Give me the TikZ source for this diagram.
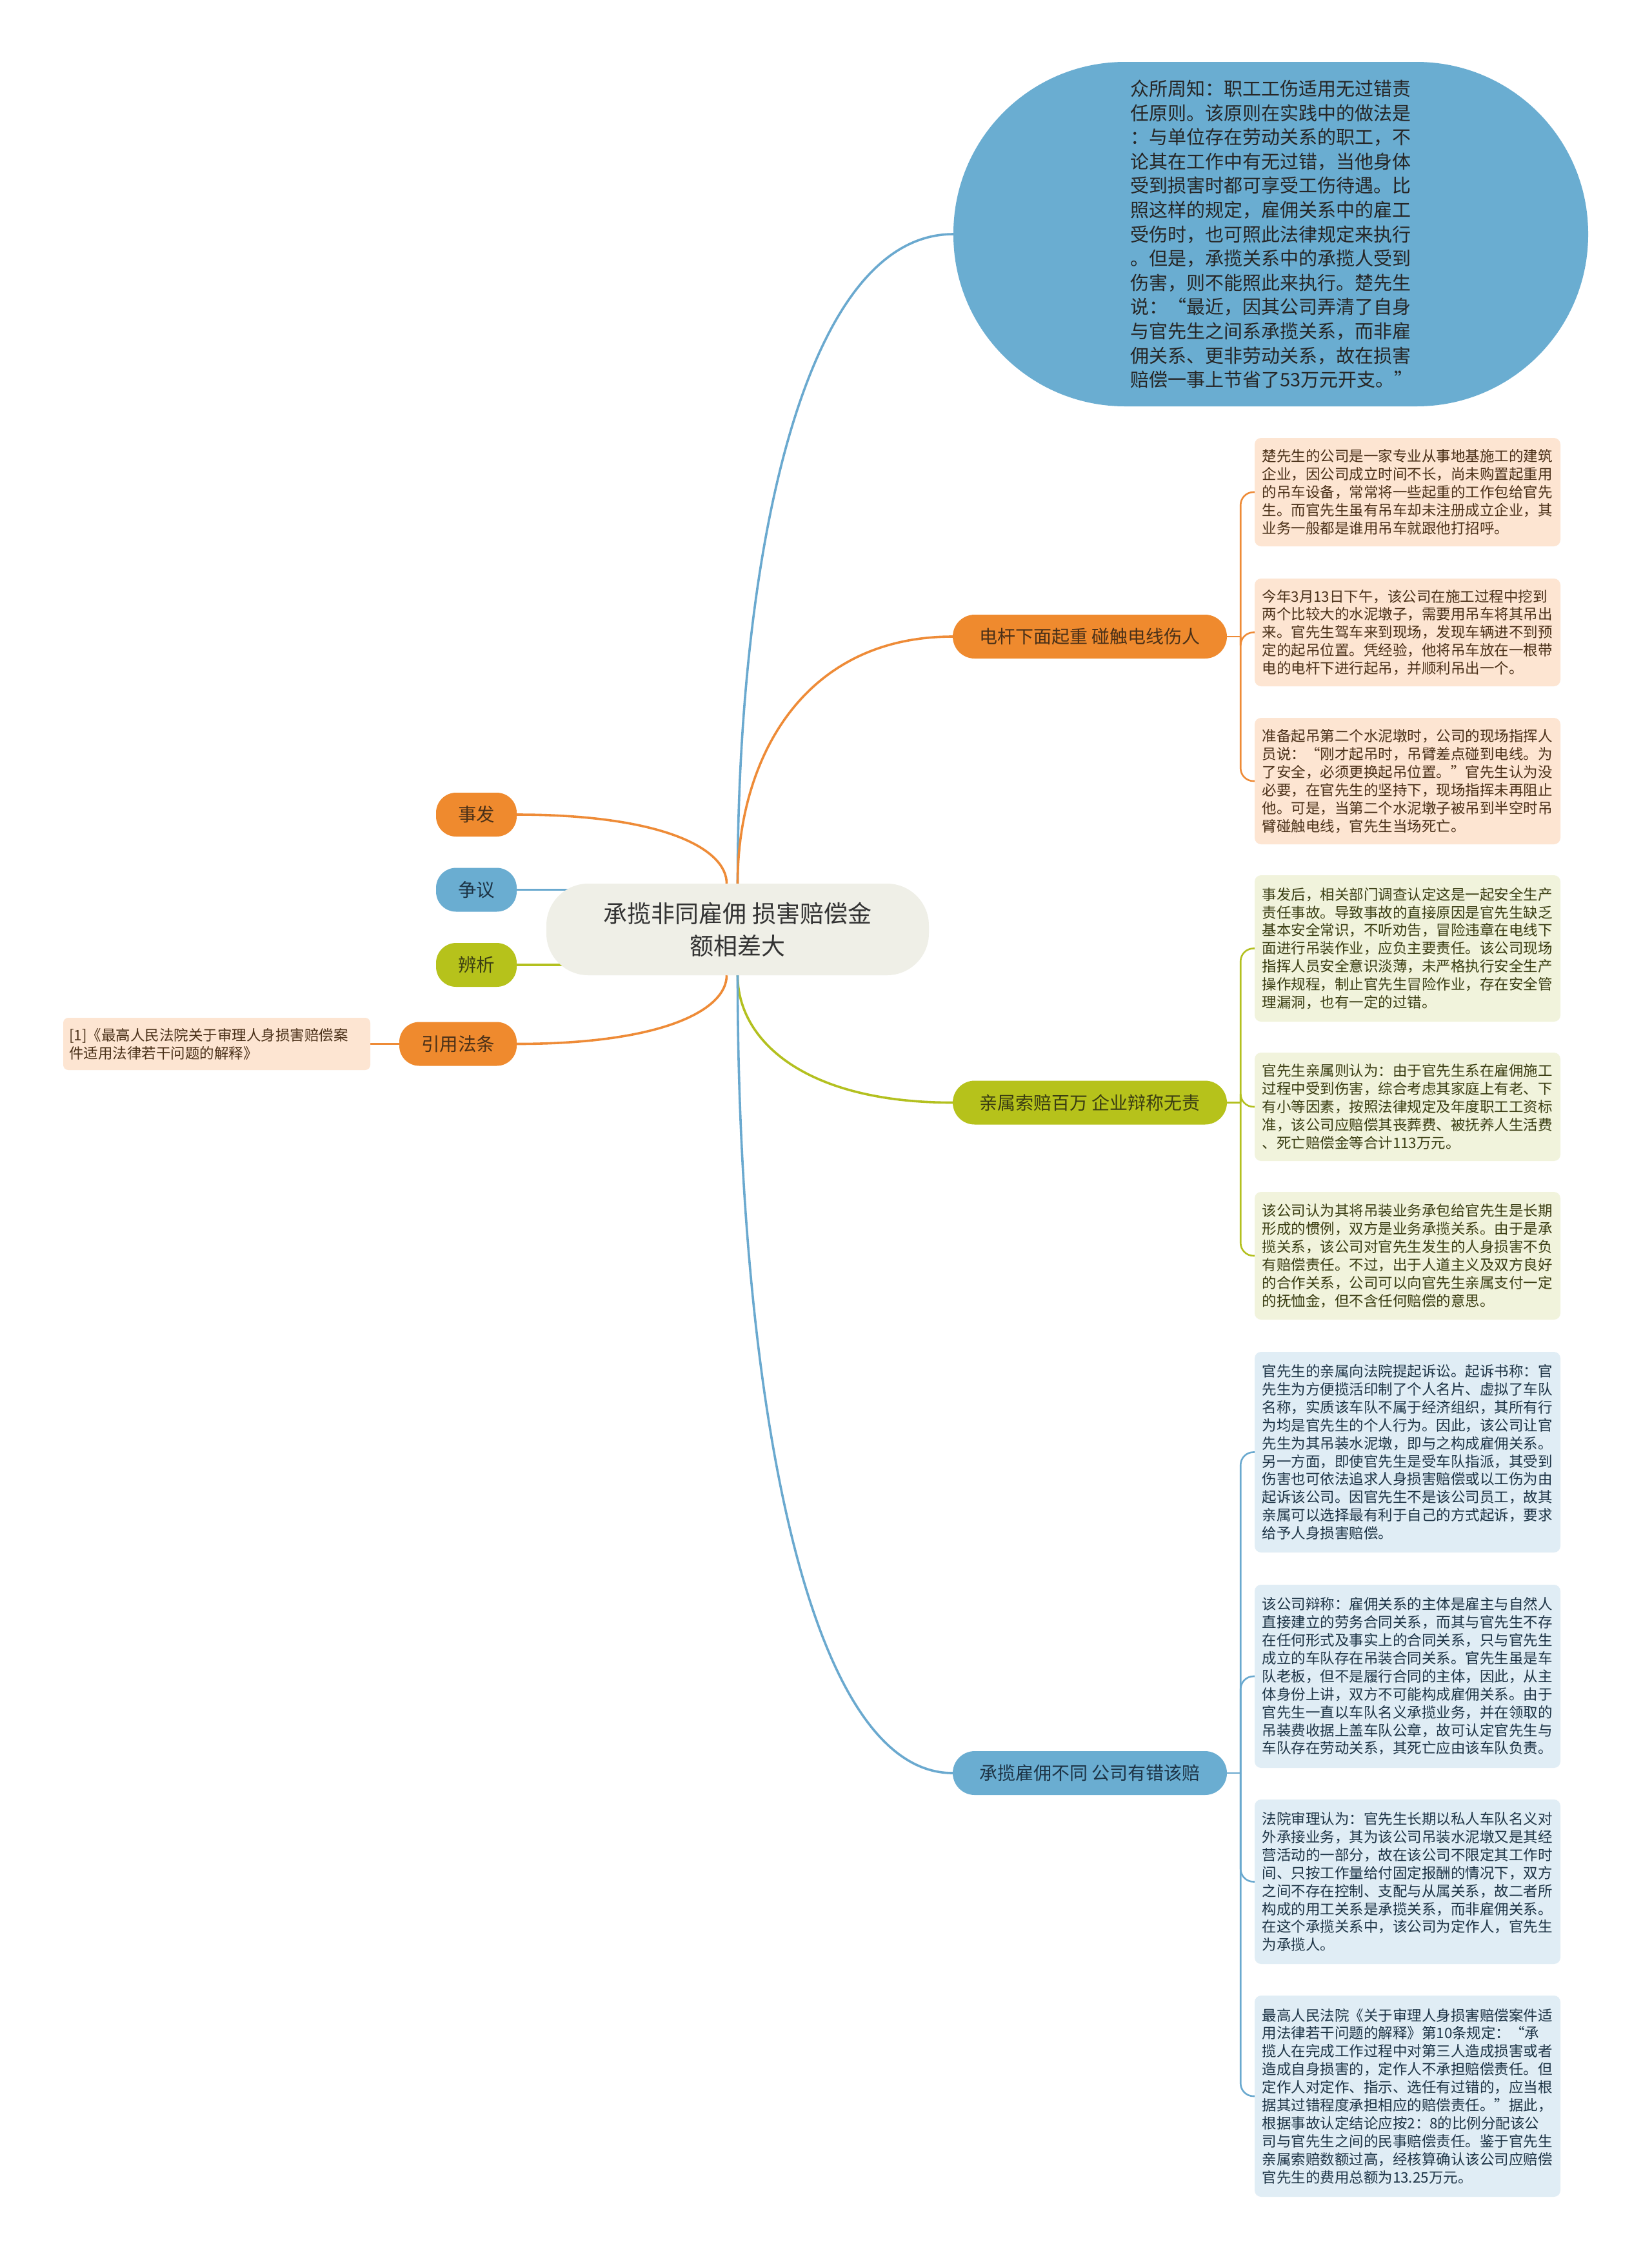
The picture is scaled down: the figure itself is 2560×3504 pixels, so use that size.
\documentclass[tikz,border=0pt]{standalone}
\usepackage{fontspec}
\setmainfont{Noto Sans CJK SC}
\usetikzlibrary{calc}
\pgfdeclarelayer{bg}
\pgfsetlayers{bg,main}
\definecolor{org}{HTML}{EF8A2E}
\definecolor{orgline}{HTML}{EE8B37}
\definecolor{blu}{HTML}{6AADD1}
\definecolor{bluline}{HTML}{6AA9CF}
\definecolor{grn}{HTML}{B6C21B}
\definecolor{grnline}{HTML}{B3C01F}
\definecolor{cfill}{HTML}{EFEFE7}
\definecolor{orgleaf}{HTML}{FDE5D2}
\definecolor{grnleaf}{HTML}{F1F3DC}
\definecolor{bluleaf}{HTML}{E0EDF5}
\definecolor{orgtxt}{HTML}{4A3018}
\definecolor{grntxt}{HTML}{3A3D12}
\definecolor{blutxt}{HTML}{1D3446}
\definecolor{ctxt}{HTML}{333333}
\newcommand\fsz[2]{\fontsize{#1pt}{#2pt}\selectfont}
\newcommand\mmlink[3]{\draw[#1] (#2) .. controls ($(#2)!0.5!(#2|-#3)$) and ($(#2|-#3)!0.3!(#3)$) .. (#3);}
\tikzset{
  cnode/.style={rectangle, rounded corners=65pt, fill=cfill, minimum width=593pt, minimum height=142pt, inner sep=0pt, align=center, text=ctxt, font=\fsz{37}{50}},
  lnode/.style={rectangle, rounded corners=31pt, minimum width=125pt, minimum height=68pt, inner sep=0pt, font=\fsz{28.5}{34}},
  bnode/.style={rectangle, rounded corners=34pt, minimum width=425pt, minimum height=68pt, inner sep=0pt, font=\fsz{28}{34}},
  enode/.style={rectangle, rounded corners=266pt, fill=blu, minimum width=984pt, minimum height=534pt, inner sep=0pt, text width=435pt, align=left, text=black!85, font=\fsz{29}{37.6}},
  leafbox/.style={rectangle, rounded corners=10pt, inner xsep=11.5pt, inner ysep=0pt, text width=451pt, minimum width=474pt, align=left, font=\fsz{22.5}{27.9}},
  oleaf/.style={leafbox, fill=orgleaf, text=orgtxt},
  gleaf/.style={leafbox, fill=grnleaf, text=grntxt},
  bleaf/.style={leafbox, fill=bluleaf, text=blutxt},
  mainline/.style={line width=3.6pt},
  subline/.style={line width=2.6pt},
}
\begin{document}
\begin{tikzpicture}[x=1pt,y=-1pt]
\useasboundingbox (0,0) rectangle (2560,3504);

% central node
\node[cnode] (c) at (1143.5,1441) {承揽非同雇佣 损害赔偿金\\额相差大};

% left nodes
\node[lnode, fill=org, text=orgtxt] (sf) at (738.5,1263) {事发};
\node[lnode, fill=blu, text=blutxt] (zy) at (738.5,1379.5) {争议};
\node[lnode, fill=grn, text=grntxt] (bx) at (738.5,1496) {辨析};
\node[lnode, fill=org, text=orgtxt, minimum width=182pt] (yy) at (710,1618.5) {引用法条};
\node[rectangle, rounded corners=8pt, fill=orgleaf, text=orgtxt, inner xsep=9pt, inner ysep=0pt, text width=458pt, minimum width=476pt, minimum height=81pt, align=left, font=\fsz{22.5}{27.9}] (ll) at (336,1618.5) {[1]《最高人民法院关于审理人身损害赔偿案\\件适用法律若干问题的解释》};

% top ellipse
\node[enode] (el) at (1970,363) {众所周知：职工工伤适用无过错责\\任原则。该原则在实践中的做法是\\：与单位存在劳动关系的职工，不\\论其在工作中有无过错，当他身体\\受到损害时都可享受工伤待遇。比\\照这样的规定，雇佣关系中的雇工\\受伤时，也可照此法律规定来执行\\。但是，承揽关系中的承揽人受到\\伤害，则不能照此来执行。楚先生\\说：“最近，因其公司弄清了自身\\与官先生之间系承揽关系，而非雇\\佣关系、更非劳动关系，故在损害\\赔偿一事上节省了53万元开支。”};

% branch nodes
\node[bnode, fill=org, text=orgtxt] (ob) at (1689.5,987) {电杆下面起重 碰触电线伤人};
\node[bnode, fill=grn, text=grntxt] (gb) at (1689.5,1709.5) {亲属索赔百万 企业辩称无责};
\node[bnode, fill=blu, text=blutxt] (bb) at (1689.5,2749) {承揽雇佣不同 公司有错该赔};

% orange leaves
\node[oleaf, minimum height=168pt] (o1) at (2182,763) {楚先生的公司是一家专业从事地基施工的建筑\\企业，因公司成立时间不长，尚未购置起重用\\的吊车设备，常常将一些起重的工作包给官先\\生。而官先生虽有吊车却未注册成立企业，其\\业务一般都是谁用吊车就跟他打招呼。};
\node[oleaf, minimum height=167pt] (o2) at (2182,980.5) {今年3月13日下午，该公司在施工过程中挖到\\两个比较大的水泥墩子，需要用吊车将其吊出\\来。官先生驾车来到现场，发现车辆进不到预\\定的起吊位置。凭经验，他将吊车放在一根带\\电的电杆下进行起吊，并顺利吊出一个。};
\node[oleaf, minimum height=196pt] (o3) at (2182,1211) {准备起吊第二个水泥墩时，公司的现场指挥人\\员说：“刚才起吊时，吊臂差点碰到电线。为\\了安全，必须更换起吊位置。”官先生认为没\\必要，在官先生的坚持下，现场指挥未再阻止\\他。可是，当第二个水泥墩子被吊到半空时吊\\臂碰触电线，官先生当场死亡。};

% green leaves
\node[gleaf, minimum height=227pt] (g1) at (2182,1470.5) {事发后，相关部门调查认定这是一起安全生产\\责任事故。导致事故的直接原因是官先生缺乏\\基本安全常识，不听劝告，冒险违章在电线下\\面进行吊装作业，应负主要责任。该公司现场\\指挥人员安全意识淡薄，未严格执行安全生产\\操作规程，制止官先生冒险作业，存在安全管\\理漏洞，也有一定的过错。};
\node[gleaf, minimum height=168pt] (g2) at (2182,1716) {官先生亲属则认为：由于官先生系在雇佣施工\\过程中受到伤害，综合考虑其家庭上有老、下\\有小等因素，按照法律规定及年度职工工资标\\准，该公司应赔偿其丧葬费、被抚养人生活费\\、死亡赔偿金等合计113万元。};
\node[gleaf, minimum height=198pt] (g3) at (2182,1947) {该公司认为其将吊装业务承包给官先生是长期\\形成的惯例，双方是业务承揽关系。由于是承\\揽关系，该公司对官先生发生的人身损害不负\\有赔偿责任。不过，出于人道主义及双方良好\\的合作关系，公司可以向官先生亲属支付一定\\的抚恤金，但不含任何赔偿的意思。};

% blue leaves
\node[bleaf, minimum height=311pt] (b1) at (2182,2251.5) {官先生的亲属向法院提起诉讼。起诉书称：官\\先生为方便揽活印制了个人名片、虚拟了车队\\名称，实质该车队不属于经济组织，其所有行\\为均是官先生的个人行为。因此，该公司让官\\先生为其吊装水泥墩，即与之构成雇佣关系。\\另一方面，即使官先生是受车队指派，其受到\\伤害也可依法追求人身损害赔偿或以工伤为由\\起诉该公司。因官先生不是该公司员工，故其\\亲属可以选择最有利于自己的方式起诉，要求\\给予人身损害赔偿。};
\node[bleaf, minimum height=284pt] (b2) at (2182,2599) {该公司辩称：雇佣关系的主体是雇主与自然人\\直接建立的劳务合同关系，而其与官先生不存\\在任何形式及事实上的合同关系，只与官先生\\成立的车队存在吊装合同关系。官先生虽是车\\队老板，但不是履行合同的主体，因此，从主\\体身份上讲，双方不可能构成雇佣关系。由于\\官先生一直以车队名义承揽业务，并在领取的\\吊装费收据上盖车队公章，故可认定官先生与\\车队存在劳动关系，其死亡应由该车队负责。};
\node[bleaf, minimum height=255pt] (b3) at (2182,2917.5) {法院审理认为：官先生长期以私人车队名义对\\外承接业务，其为该公司吊装水泥墩又是其经\\营活动的一部分，故在该公司不限定其工作时\\间、只按工作量给付固定报酬的情况下，双方\\之间不存在控制、支配与从属关系，故二者所\\构成的用工关系是承揽关系，而非雇佣关系。\\在这个承揽关系中，该公司为定作人，官先生\\为承揽人。};
\node[bleaf, minimum height=312pt] (b4) at (2182,3250) {最高人民法院《关于审理人身损害赔偿案件适\\用法律若干问题的解释》第10条规定：“承\\揽人在完成工作过程中对第三人造成损害或者\\造成自身损害的，定作人不承担赔偿责任。但\\定作人对定作、指示、选任有过错的，应当根\\据其过错程度承担相应的赔偿责任。”据此，\\根据事故认定结论应按2：8的比例分配该公\\司与官先生之间的民事赔偿责任。鉴于官先生\\亲属索赔数额过高，经核算确认该公司应赔偿\\官先生的费用总额为13.25万元。};

% connectors
\coordinate (cl1) at ($(c.north)+(-17,0)$);
\coordinate (cl2) at ($(c.south)+(-17,0)$);
\coordinate (oj) at ($(ob.east)+(21,0)$);
\coordinate (gj) at ($(gb.east)+(21,0)$);
\coordinate (bj) at ($(bb.east)+(21,0)$);
\begin{pgfonlayer}{bg}
  \fill[white] (0,0) rectangle (2560,3504);
  \mmlink{mainline, bluline}{c.north}{el.west}
  \mmlink{mainline, orgline}{c.north}{ob.west}
  \mmlink{mainline, grnline}{c.south}{gb.west}
  \mmlink{mainline, bluline}{c.south}{bb.west}
  \mmlink{mainline, orgline}{cl1}{sf.east}
  \mmlink{mainline, orgline}{cl2}{yy.east}
  \draw[mainline, bluline] (zy.east) -- (zy.east -| c.center);
  \draw[mainline, grnline] (bx.east) -- (bx.east -| c.center);
  \draw[subline, orgline] (yy.west) -- (ll.east);
  % orange leaves
  \draw[subline, orgline] (ob.east) -- (oj);
  \foreach \n in {o1,o2,o3} \draw[subline, orgline, rounded corners=20pt] (oj) |- (\n.west);
  % green leaves
  \draw[subline, grnline] (gb.east) -- (gj);
  \foreach \n in {g1,g2,g3} \draw[subline, grnline, rounded corners=20pt] (gj) |- (\n.west);
  % blue leaves
  \draw[subline, bluline] (bb.east) -- (bj);
  \foreach \n in {b1,b2,b3,b4} \draw[subline, bluline, rounded corners=20pt] (bj) |- (\n.west);
\end{pgfonlayer}
\end{tikzpicture}
\end{document}
